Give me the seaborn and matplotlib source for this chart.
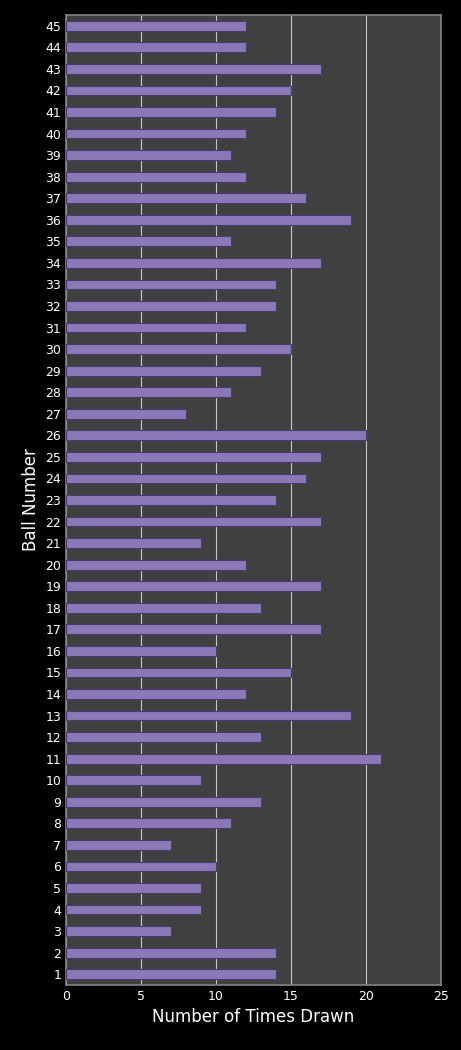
import matplotlib
matplotlib.use("Agg")
import matplotlib.pyplot as plt
import seaborn as sns
import pandas as pd

balls = list(range(1, 46))
times_drawn = [14, 14, 7, 9, 9, 10, 7, 11, 13, 9,
               21, 13, 19, 12, 15, 10, 17, 13, 17, 12,
               9, 17, 14, 16, 17, 20, 8, 11, 13, 15,
               12, 14, 14, 17, 11, 19, 16, 12, 11, 12,
               14, 15, 17, 12, 12]

df = pd.DataFrame({"ball": [str(b) for b in balls], "count": times_drawn})
order = [str(b) for b in reversed(balls)]

sns.set_theme(style="dark")
plt.rcParams['font.family'] = ['DejaVu Sans']

fig = plt.figure(figsize=(4.61, 10.5), dpi=100, facecolor="black")
ax = fig.add_axes([66 / 461, 65 / 1050, 375 / 461, 970 / 1050])
ax.set_facecolor("#404040")

sns.barplot(data=df, x="count", y="ball", order=order, orient="h",
            color="#8a78b8", edgecolor="#4a3d6e", linewidth=0.8,
            width=0.45, saturation=1, ax=ax, zorder=3)

ax.set_xlim(0, 25)
ax.set_xticks([0, 5, 10, 15, 20, 25])
ax.xaxis.grid(True, color="#c8c8c8", linewidth=0.8, zorder=0)
ax.yaxis.grid(False)
ax.set_axisbelow(True)
for s in ax.spines.values():
    s.set_color("#808080")
ax.tick_params(colors="white", labelsize=9, length=0)
ax.set_xlabel("Number of Times Drawn", color="white", fontsize=12)
ax.set_ylabel("Ball Number", color="white", fontsize=12)

fig.savefig("out.png", facecolor="black")
